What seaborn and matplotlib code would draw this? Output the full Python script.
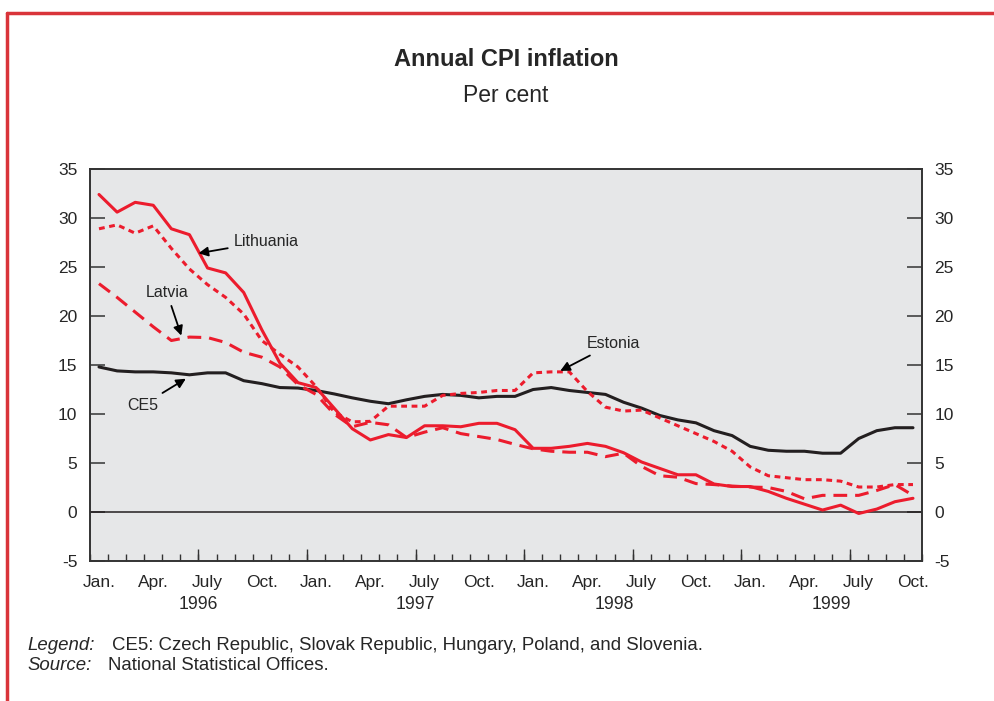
import numpy as np
import pandas as pd
import matplotlib
matplotlib.use("Agg")
import matplotlib.pyplot as plt
from matplotlib.lines import Line2D
import seaborn as sns

# monthly observations, Jan. 1996 .. Oct. 1999
months = np.arange(46)

ce5 = [14.8, 14.4, 14.3, 14.3, 14.2, 14.0, 14.2, 14.2, 13.4, 13.1, 12.7, 12.65,
       12.4, 12.05, 11.65, 11.3, 11.05, 11.45, 11.8, 12.0, 11.9, 11.65, 11.8, 11.8,
       12.5, 12.7, 12.4, 12.2, 12.0, 11.2, 10.6, 9.85, 9.4, 9.1, 8.3,
       7.8, 6.7, 6.3, 6.2, 6.2, 6.0, 6.0, 7.5, 8.3, 8.6, 8.6]

estonia = [28.9, 29.3, 28.45, 29.2, 26.9, 24.8, 23.2, 21.9, 20.2, 17.5, 16.1, 14.8,
           12.8, 10.2, 9.2, 9.25, 10.8, 10.8, 10.8, 11.9, 12.1, 12.2, 12.4, 12.4,
           14.2, 14.3, 14.3, 12.3, 10.7, 10.3, 10.4, 9.6, 8.8, 8.0, 7.2,
           6.2, 4.6, 3.7, 3.5, 3.3, 3.3, 3.15, 2.55, 2.55, 2.8, 2.8]

latvia = [23.3, 21.9, 20.4, 18.9, 17.5, 17.85, 17.8, 17.3, 16.3, 15.8, 14.8, 13.0,
          12.0, 10.0, 8.7, 9.15, 8.9, 7.6, 8.15, 8.6, 8.0, 7.7, 7.4, 6.9,
          6.45, 6.2, 6.1, 6.1, 5.65, 6.0, 4.65, 3.7, 3.55, 2.9, 2.8,
          2.65, 2.55, 2.5, 2.1, 1.35, 1.7, 1.7, 1.7, 2.2, 2.8, 1.7]

lithuania = [32.4, 30.6, 31.6, 31.3, 28.9, 28.3, 24.9, 24.4, 22.4, 18.6, 15.2, 13.2,
             12.7, 10.6, 8.5, 7.35, 7.9, 7.6, 8.8, 8.8, 8.7, 9.05, 9.05, 8.4,
             6.5, 6.5, 6.7, 7.0, 6.7, 6.05, 5.1, 4.45, 3.8, 3.8, 2.86,
             2.6, 2.6, 2.1, 1.4, 0.8, 0.2, 0.7, -0.15, 0.3, 1.05, 1.4]

month_labels = ["Jan.", "Apr.", "July", "Oct."] * 4
years = ["1996", "1997", "1998", "1999"]
year_pos = [5.5, 17.5, 28.5, 40.5]

RED = "#EC1C2D"
DARK = "#231F20"

sns.set_style("ticks")
plt.rcParams["font.family"] = ["Liberation Sans", "DejaVu Sans"]
plt.rcParams["axes.unicode_minus"] = False

fig = plt.figure(figsize=(9.94, 7.01), dpi=100)
ax = fig.add_axes([0.0905, 0.1997, 0.8371, 0.5592])
ax.set_facecolor("#E6E7E8")

sns.lineplot(x=months, y=ce5, ax=ax, color=DARK, lw=2.2)
sns.lineplot(x=months, y=lithuania, ax=ax, color=RED, lw=2.2)
sns.lineplot(x=months, y=latvia, ax=ax, color=RED, lw=2.2)
ax.lines[-1].set_dashes((4.5, 2.6))
sns.lineplot(x=months, y=estonia, ax=ax, color=RED, lw=2.2)
ax.lines[-1].set_dashes((1.9, 1.5))

ax.axhline(0, color=DARK, lw=1.1, zorder=1)

ax.set_xlim(-0.5, 45.5)
ax.set_ylim(-5, 35)
for s in ax.spines.values():
    s.set_color("#333333")
    s.set_linewidth(1.4)

# y axis on both sides
ax.set_yticks(range(-5, 36, 5))
ax.tick_params(axis="y", left=True, right=True, labelleft=True, labelright=True,
               direction="in", length=11, width=1.1, color="#333333",
               labelsize=12.5, pad=9)

# month boundaries as ticks, labels at the months
bounds = np.arange(-0.5, 46, 1)
ax.set_xticks(months[::3])
ax.set_xticklabels(month_labels)
ax.set_xticks(bounds, minor=True)
ax.tick_params(axis="x", which="major", length=0, labelsize=12.5, pad=10)
ax.tick_params(axis="x", which="minor", direction="in", length=5, width=1.0,
               color="#333333")
half_years = bounds[6::6]
ax.vlines(half_years, 0, 12 / 392, transform=ax.get_xaxis_transform(),
          color="#333333", lw=1.0)

for yr, xp in zip(years, year_pos):
    ax.text(xp, -0.112, yr, transform=ax.get_xaxis_transform(),
            ha="center", va="center", fontsize=12.7)

ax.set_xlabel("")
ax.set_ylabel("")

# series labels
arrow = dict(arrowstyle="-|>", color="black", lw=1.3, mutation_scale=14,
             shrinkA=2, shrinkB=0)
ax.annotate("Lithuania", xy=(5.5, 26.4), xytext=(7.45, 27.6), fontsize=11.5,
            ha="left", va="center", arrowprops=arrow)
ax.annotate("Latvia", xy=(4.55, 18.0), xytext=(3.75, 22.4), fontsize=11.5,
            ha="center", va="center", arrowprops=arrow)
ax.annotate("CE5", xy=(4.8, 13.6), xytext=(2.4, 10.9), fontsize=11.5,
            ha="center", va="center", arrowprops=arrow)
ax.annotate("Estonia", xy=(25.5, 14.4), xytext=(26.95, 17.2), fontsize=11.5,
            ha="left", va="center", arrowprops=arrow)

# titles
fig.text(0.509, 1 - 59 / 701, "Annual CPI inflation", ha="center", va="center",
         fontsize=17, fontweight="bold")
fig.text(0.509, 1 - 95 / 701, "Per cent", ha="center", va="center", fontsize=16.5)

# notes
fig.text(27 / 994, 1 - 645 / 701, "Legend:", fontsize=13.4, style="italic", va="center")
fig.text(112 / 994, 1 - 645 / 701,
         "CE5: Czech Republic, Slovak Republic, Hungary, Poland, and Slovenia.",
         fontsize=13.4, va="center")
fig.text(27 / 994, 1 - 665 / 701, "Source:", fontsize=13.4, style="italic", va="center")
fig.text(108 / 994, 1 - 665 / 701, "National Statistical Offices.", fontsize=13.4,
         va="center")

# red frame
fig.add_artist(Line2D([7 / 994, 7 / 994], [0, 1 - 13 / 701], color="#D9343A", lw=2.5))
fig.add_artist(Line2D([7 / 994, 1], [1 - 13 / 701, 1 - 13 / 701], color="#D9343A", lw=2.5))

fig.savefig("out.png", dpi=100)
